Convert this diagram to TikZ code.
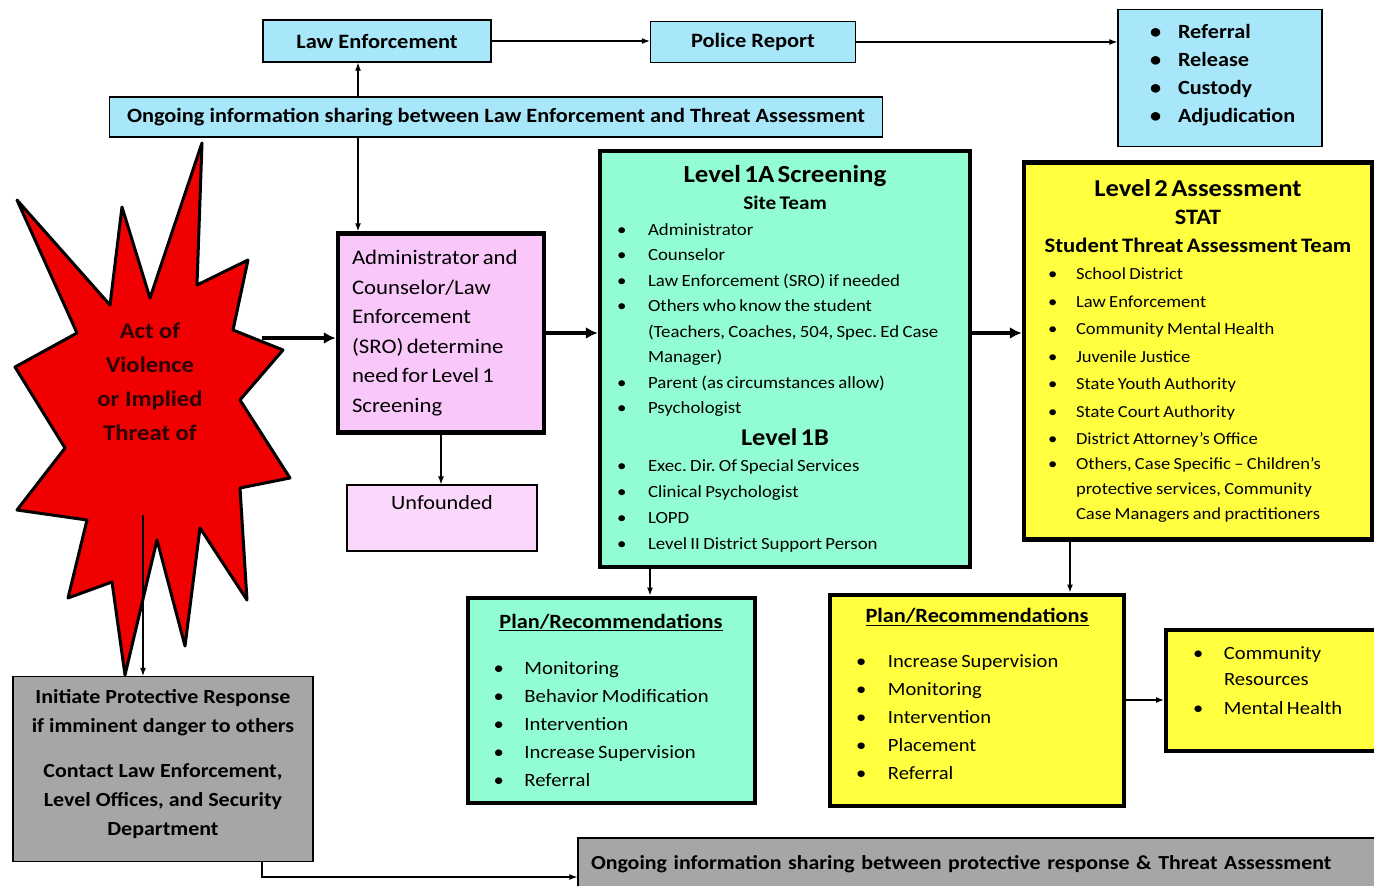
\documentclass[tikz,border=0pt]{standalone}
\usepackage{fontspec}
\setmainfont{Carlito}[FakeStretch=1.1]
\usetikzlibrary{shapes,arrows.meta,calc}
\definecolor{lawblue}{RGB}{168,231,250}
\definecolor{adminpink}{RGB}{249,199,250}
\definecolor{lightpink}{RGB}{251,216,251}
\definecolor{screengreen}{RGB}{146,252,211}
\definecolor{assessyellow}{RGB}{255,255,64}
\definecolor{respgrey}{RGB}{166,166,166}
\definecolor{starred}{RGB}{240,0,0}
\definecolor{startext}{RGB}{45,0,0}
\newcommand{\fs}[2]{\fontsize{#1}{#2}\selectfont}
\newcommand{\bitem}[2][28pt]{\par\hangindent=#1\hangafter=1\noindent\makebox[#1][l]{\textbullet}#2}
\newcommand{\lift}[1]{\par\nointerlineskip\noindent\rule{0pt}{#1}\par}
\tikzset{
  thinbox/.style={draw, line width=1.3pt, inner sep=0pt},
  heavybox/.style={draw, line width=4.5pt, inner sep=0pt},
  link/.style={-{Latex[length=8pt,width=6pt]}, line width=1.2pt},
  flow/.style={-{Latex[length=12pt,width=12pt]}, line width=4pt}
}
\frenchspacing
\begin{document}
\begin{tikzpicture}[x=1pt,y=-1pt]
\useasboundingbox (0,0) rectangle (1374,886);
% law enforcement row
\node[thinbox, fill=lawblue, minimum width=228, minimum height=42, font=\fs{20.4}{24}\bfseries] (law) at (377,41) {Law Enforcement};
\node[thinbox, fill=lawblue, minimum width=205, minimum height=41, font=\fs{20.4}{24}\bfseries] (police) at (753,42) {Police Report};
\node[thinbox, fill=lawblue, minimum width=204, minimum height=137, text width=180] (outcome) at (1220,78) {\fs{20.2}{28}\bfseries\leftskip=20pt
  \bitem{Referral}\bitem{Release}\bitem{Custody}\bitem{Adjudication}\lift{20pt}};
\node[thinbox, fill=lawblue, minimum width=773, minimum height=40, font=\fs{20.3}{24}\bfseries] (shareLE) at (496,117) {Ongoing information sharing between Law Enforcement and Threat Assessment};
\coordinate (tapLE) at (358,0);
% the threat
\filldraw[fill=starred, draw=black, line width=3pt, line join=round]
  (202,143) -- (197,285) -- (248,260) -- (233,330) -- (283,350) -- (240,400) -- (290,478) -- (240,488)
  -- (247,600) -- (200,528) -- (185,646) -- (157,540) -- (125,675) -- (112,582) -- (68,598) -- (87,520)
  -- (17,510) -- (65,448) -- (15,367) -- (77,333) -- (17,200) -- (110,305) -- (122,207) -- (150,298) -- cycle;
\node[align=center, text=startext, font=\fs{22.4}{34}\bfseries] (threat) at (150,382) {Act of\\Violence\\or Implied\\Threat of};
\coordinate (starR) at (262,338);
\coordinate (starB) at (143,515);
% screening chain
\node[heavybox, fill=adminpink, minimum width=206, minimum height=199, text width=178] (admin) at (441,333) {\fs{20.7}{29.5}\noindent
  Administrator and\newline Counselor/Law\newline Enforcement\newline (SRO) determine\newline need for Level 1\newline Screening\par};
\node[thinbox, fill=lightpink, minimum width=190, minimum height=66, text width=180] (unfounded) at (442,518) {\fs{20.2}{24}\centering
  Unfounded\par\rule{0pt}{30pt}\par};
\node[heavybox, fill=screengreen, minimum width=370, minimum height=416, text width=336] (lvlA) at (785,359) {%
  {\centering\fs{24.5}{27}\bfseries Level 1A Screening\par}
  {\centering\fs{19.3}{27}\bfseries Site Team\par}
  \fs{17.1}{25.5}
  \bitem[31pt]{Administrator}
  \bitem[31pt]{Counselor}
  \bitem[31pt]{Law Enforcement (SRO) if needed}
  \bitem[31pt]{Others who know the student\newline (Teachers, Coaches, 504, Spec. Ed Case\newline Manager)}
  \bitem[31pt]{Parent (as circumstances allow)}
  \bitem[31pt]{Psychologist}\par
  {\centering\fs{24}{32}\bfseries Level 1B\par}
  \fs{17.1}{26}
  \bitem[31pt]{Exec. Dir. Of Special Services}
  \bitem[31pt]{Clinical Psychologist}
  \bitem[31pt]{LOPD}
  \bitem[31pt]{Level II District Support Person}\par};
\node[heavybox, fill=assessyellow, minimum width=348, minimum height=377, text width=324] (lvlB) at (1198,351) {%
  {\centering\fs{24.2}{26}\bfseries Level 2 Assessment\par}
  {\centering\fs{22}{28}\bfseries STAT\par}
  {\centering\fs{20.6}{28}\bfseries Student Threat Assessment Team\par}
  \fs{16.9}{27.5}\leftskip=12pt
  \bitem[28pt]{School District}
  \bitem[28pt]{Law Enforcement}
  \bitem[28pt]{Community Mental Health}
  \bitem[28pt]{Juvenile Justice}
  \bitem[28pt]{State Youth Authority}
  \bitem[28pt]{State Court Authority}
  \bitem[28pt]{District Attorney’s Office}\par
  \fs{16.9}{25}
  \bitem[28pt]{Others, Case Specific – Children’s\newline protective services, Community\newline Case Managers and practitioners}\par};
% plans
\node[heavybox, line width=4pt, fill=screengreen, minimum width=287, minimum height=205, text width=251] (planA) at (611,700) {%
  {\centering\fs{20.3}{24}\bfseries\underline{Plan/Recommendations}\par}
  \vspace{18pt}
  \fs{18.8}{28}\leftskip=8pt
  \bitem[31pt]{Monitoring}
  \bitem[31pt]{Behavior Modification}
  \bitem[31pt]{Intervention}
  \bitem[31pt]{Increase Supervision}
  \bitem[31pt]{Referral}\par};
\node[heavybox, line width=4pt, fill=assessyellow, minimum width=294, minimum height=211, text width=258] (planB) at (977,700) {%
  {\centering\fs{20.3}{24}\bfseries\underline{Plan/Recommendations}\par}
  \vspace{17pt}
  \fs{18.7}{28}\leftskip=8pt
  \bitem[32pt]{Increase Supervision}
  \bitem[32pt]{Monitoring}
  \bitem[32pt]{Intervention}
  \bitem[32pt]{Placement}
  \bitem[32pt]{Referral}\lift{12pt}};
\node[heavybox, line width=4pt, fill=assessyellow, minimum width=230, minimum height=121, text width=184] (community) at (1281,690) {%
  \fs{18.7}{26}\leftskip=4pt
  \bitem[31pt]{Community\newline Resources}\par
  \fs{18.7}{29}
  \bitem[31pt]{Mental Health}\lift{32pt}};
\coordinate (tapA) at (650,0);
\coordinate (tapB) at (1070,0);
% protective response
\node[thinbox, fill=respgrey, minimum width=300, minimum height=185, text width=294, align=flush center, font=\fs{20}{29}\bfseries] (response) at (163,769)
  {Initiate Protective Response\\if imminent danger to others\\[16pt]Contact Law Enforcement,\\Level Offices, and Security\\Department\\[-16pt]\mbox{}};
\node[thinbox, fill=respgrey, minimum width=820, minimum height=52, text width=794, font=\fs{19.9}{24}\bfseries] (shareP) at (988,864)
  {Ongoing information sharing between protective response \& Threat Assessment};
\coordinate (tapP) at (262,0);
% connectors
\draw[link] (law.east) -- (law.east -| police.west);
\draw[link] (police.east) -- (police.east -| outcome.west);
\draw[link] (shareLE.north -| tapLE) -- (law.south -| tapLE);
\draw[link] (shareLE.south -| tapLE) -- (admin.north -| tapLE);
\draw[flow] (starR) -- (starR -| admin.west);
\draw[flow] (admin.east) -- (admin.east -| lvlA.west);
\draw[flow] (lvlA.east |- admin.east) -- (lvlB.west |- admin.east);
\draw[link] (admin.south) -- (admin.south |- unfounded.north);
\draw[link] (lvlA.south -| tapA) -- (planA.north -| tapA);
\draw[link] (lvlB.south -| tapB) -- (planB.north -| tapB);
\draw[link] (planB.east) -- (planB.east -| community.west);
\draw[link] (starB) -- (starB |- response.north);
\draw[link] (response.south -| tapP) |- ($(shareP.west)+(0,13)$);
\end{tikzpicture}
\end{document}
